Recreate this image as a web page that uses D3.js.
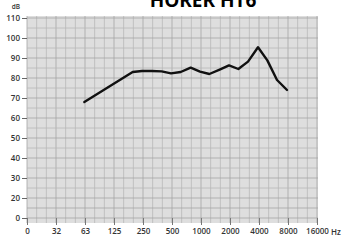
<!DOCTYPE html>
<html>
<head>
<meta charset="utf-8">
<script src="https://cdn.jsdelivr.net/npm/d3@7"></script>
<style>
  body { margin: 0; background: #fff; }
  text { font-family: "Open Sans", sans-serif; }
</style>
</head>
<body>
<div id="chart"></div>
<script>
// frequency response
const freqs = [63, 200, 250, 315, 400, 500, 630, 800, 1000, 1250, 1600, 2000, 2500, 3150, 4000, 5000, 6300, 8000];
const levels = [68, 83, 83.5, 83.5, 83.3, 82.3, 83, 85.2, 83.2, 82, 84.2, 86.3, 84.5, 88.2, 95.4, 88.8, 79, 74];

const xTickLabels = ["0", "32", "63", "125", "250", "500", "1000", "2000", "4000", "8000", "16000"];
const yTickValues = [0, 20, 30, 40, 50, 60, 70, 80, 90, 100, 110];

const svgWidth = 345;
const svgHeight = 242;

const svg = d3.select("#chart")
    .append("svg")
    .attr("width", svgWidth)
    .attr("height", svgHeight);

// log2 x scale: octave ticks at 16 * 2^i, "0" sits where 16 Hz would be
const x = d3.scaleLog().base(2)
    .domain([16, 16384])
    .range([27, 317]);

// axis is broken between 0 and 20 dB
const y = d3.scaleLinear()
    .domain([0, 20, 110])
    .range([218, 198, 18]);

// plot background
svg.append("rect")
    .attr("x", 27)
    .attr("y", 16)
    .attr("width", 291)
    .attr("height", 207)
    .attr("fill", "#dedede");

// grid: third octaves vertically, 5 dB horizontally
const thirds = d3.range(0, 31).map(i => 16 * Math.pow(2, i / 3));
svg.append("g")
    .selectAll("line")
    .data(thirds)
    .enter()
    .append("line")
    .attr("x1", d => x(d))
    .attr("x2", d => x(d))
    .attr("y1", 16)
    .attr("y2", 223)
    .attr("stroke", (d, i) => i % 3 === 0 ? "#a4a4a4" : "#b8b8b8")
    .attr("stroke-width", 0.8);

const hLines = [0, 10].concat(d3.range(20, 111, 5));
svg.append("g")
    .selectAll("line")
    .data(hLines)
    .enter()
    .append("line")
    .attr("x1", 27)
    .attr("x2", 318)
    .attr("y1", d => y(d))
    .attr("y2", d => y(d))
    .attr("stroke", d => d % 10 === 0 ? "#a4a4a4" : "#b8b8b8")
    .attr("stroke-width", 0.8);

// y axis
const yAxis = d3.axisLeft(y)
    .tickValues(yTickValues)
    .tickSize(5)
    .tickPadding(2);

const yG = svg.append("g")
    .attr("transform", "translate(27,0)")
    .call(yAxis);
yG.select(".domain").remove();
yG.selectAll(".tick line").attr("stroke", "#666");
yG.selectAll(".tick text")
    .attr("font-family", "Open Sans, sans-serif")
    .attr("font-size", 8)
    .attr("font-weight", 600)
    .attr("fill", "#333");

svg.append("text")
    .attr("x", 16)
    .attr("y", 9)
    .attr("text-anchor", "middle")
    .attr("font-size", 6.5)
    .attr("font-weight", 600)
    .attr("fill", "#333")
    .text("dB");

// x axis
const octaves = xTickLabels.map((d, i) => 16 * Math.pow(2, i));
const xAxis = d3.axisBottom(x)
    .tickValues(octaves)
    .tickFormat((d, i) => xTickLabels[i])
    .tickSize(7)
    .tickPadding(3);

const xG = svg.append("g")
    .attr("transform", "translate(0,218)")
    .call(xAxis);
xG.select(".domain").remove();
xG.selectAll(".tick line").attr("stroke", "#777");
xG.selectAll(".tick text")
    .attr("font-family", "Open Sans, sans-serif")
    .attr("font-size", 8)
    .attr("font-weight", 600)
    .attr("fill", "#333");

svg.append("text")
    .attr("x", 331)
    .attr("y", 235)
    .attr("font-size", 8)
    .attr("font-weight", 600)
    .attr("fill", "#333")
    .text("Hz");

// title, cut by the top edge as in the source
svg.append("text")
    .attr("x", 203)
    .attr("y", 7)
    .attr("text-anchor", "middle")
    .attr("font-family", "Liberation Sans, Arial, sans-serif")
    .attr("font-size", 19)
    .attr("font-weight", "bold")
    .attr("fill", "#000")
    .text("HÖRER HT6");

// response curve
const line = d3.line()
    .x((d, i) => x(freqs[i]))
    .y(d => y(d));

svg.append("path")
    .datum(levels)
    .attr("d", line)
    .attr("fill", "none")
    .attr("stroke", "#111")
    .attr("stroke-width", 2.4)
    .attr("stroke-linejoin", "round")
    .attr("stroke-linecap", "round");
</script>
</body>
</html>
